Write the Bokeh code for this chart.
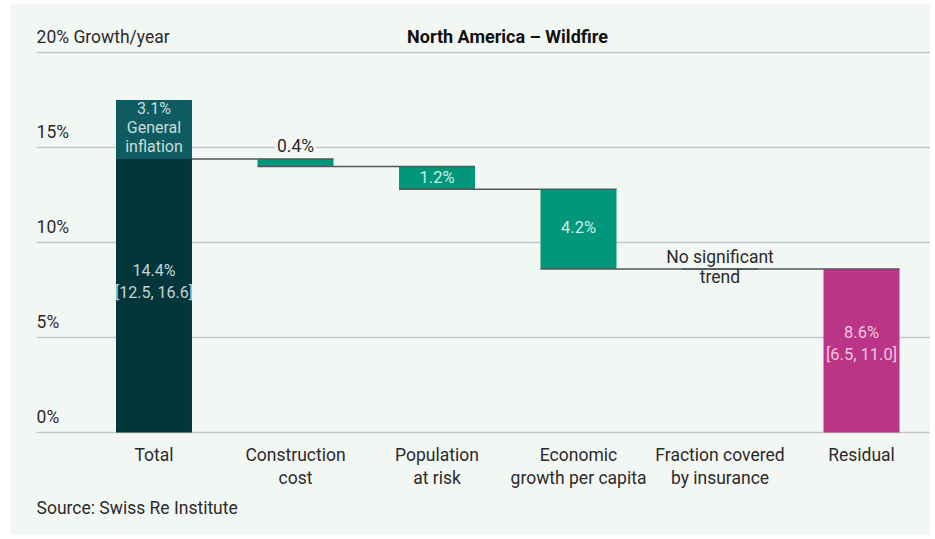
from bokeh.plotting import figure
from bokeh.models import Range1d
from bokeh.core.properties import value
from bokeh.embed import file_html
from bokeh.resources import INLINE

# ---- data ----
categories_l1 = ["Total", "Construction", "Population", "Economic", "Fraction covered", "Residual"]
categories_l2 = ["", "cost", "at risk", "growth per capita", "by insurance", ""]
total_value = 14.4
inflation_value = 3.1
drivers = [0.4, 1.2, 4.2, 0.0]          # construction, population, economic, fraction
residual_value = 8.6
total_ci = "[12.5, 16.6]"
residual_ci = "[6.5, 11.0]"
y_ticks = [0, 5, 10, 15, 20]
y_tick_labels = ["0%", "5%", "10%", "15%", "20% Growth/year"]

BG = "#f3f7f4"
DARK = "#02363a"
INFL = "#0e5c61"
GREEN = "#00977a"
MAGENTA = "#ba3587"
GRID = "#c4c6c5"
CONN = "#50575a"
TXT = "#2b2b2b"
FONT = value("Roboto")
FS = "17.5px"

W = 0.537
p = figure(width=930, height=535, output_backend="svg", toolbar_location=None,
           x_range=Range1d(-1.0141, 5.4876), y_range=Range1d(-5.421, 22.579),
           x_axis_location=None, y_axis_location=None,
           min_border_left=10, min_border_top=3, min_border_right=0, min_border_bottom=0,
           background_fill_color=BG, border_fill_color="white", outline_line_color=None)
p.grid.visible = False

# gridlines
x_left = -0.83
p.segment(x0=[x_left] * len(y_ticks), x1=[5.6] * len(y_ticks), y0=y_ticks, y1=y_ticks,
          line_color=GRID, line_width=1.3)
p.text(x=[x_left] * len(y_ticks), y=[v + 0.84 for v in y_ticks], text=y_tick_labels,
       text_font=FONT, text_font_size=FS, text_color=TXT,
       text_align="left", text_baseline="middle")

# title
p.text(x=[2.498], y=[20.84], text=["North America – Wildfire"], text_font=FONT,
       text_font_size="18px", text_font_style="bold", text_color="#111111",
       text_align="center", text_baseline="middle")

# compute waterfall
levels = [total_value]
for d in drivers:
    levels.append(levels[-1] - d)
dx, dtop, dbot = [], [], []
for i, d in enumerate(drivers):
    if d > 0:
        dx.append(i + 1)
        dtop.append(levels[i])
        dbot.append(levels[i + 1])

p.vbar(x=[0], bottom=[0], top=[total_value], width=W, fill_color=DARK, line_color=None)
p.vbar(x=[0], bottom=[total_value], top=[total_value + inflation_value], width=W,
       fill_color=INFL, line_color=None)
p.vbar(x=dx, bottom=dbot, top=dtop, width=W, fill_color=GREEN, line_color=None)
p.vbar(x=[5], bottom=[0], top=[residual_value], width=W, fill_color=MAGENTA, line_color=None)

# connectors
cx0, cx1, cy = [], [], []
for i in range(len(drivers) + 1):
    cx0.append(i + W / 2 if i == 0 else i - W / 2)
    cx1.append(i + 1 + W / 2)
    cy.append(levels[i] if i < len(levels) else levels[-1])
p.segment(x0=cx0, x1=cx1, y0=cy, y1=cy, line_color=CONN, line_width=1.5)

# labels inside total bar
top_t = total_value + inflation_value
p.text(x=[0, 0, 0], y=[top_t - 0.45, top_t - 1.45, top_t - 2.45],
       text=[f"{inflation_value}%", "General", "inflation"], text_font=FONT,
       text_font_size="16px", text_color="#c9dcda", text_align="center", text_baseline="middle")
p.text(x=[0, 0], y=[8.53, 7.37], text=[f"{total_value}%", total_ci], text_font=FONT,
       text_font_size="16px", text_color="#c4d3d3", text_align="center", text_baseline="middle")

# driver labels
p.text(x=[1], y=[15.1], text=[f"{drivers[0]}%"], text_font=FONT, text_font_size=FS,
       text_color=TXT, text_align="center", text_baseline="middle",
       background_fill_color=BG, padding=2)
p.text(x=[2, 3], y=[(levels[1] + levels[2]) / 2, 10.79],
       text=[f"{drivers[1]}%", f"{drivers[2]}%"], text_font=FONT, text_font_size="16.5px",
       text_color="#cdeee3", text_align="center", text_baseline="middle")
p.text(x=[4, 4], y=[9.26, 8.16], text=["No significant", "trend"], text_font=FONT,
       text_font_size=FS, text_color=TXT, text_align="center", text_baseline="middle")
p.text(x=[5, 5], y=[5.26, 4.1], text=[f"{residual_value}%", residual_ci], text_font=FONT,
       text_font_size="16.5px", text_color="#f1c6df", text_align="center", text_baseline="middle")

# category labels
xs = list(range(len(categories_l1)))
p.text(x=xs, y=[-1.21] * len(xs), text=categories_l1, text_font=FONT, text_font_size=FS,
       text_color=TXT, text_align="center", text_baseline="middle")
p.text(x=xs, y=[-2.42] * len(xs), text=categories_l2, text_font=FONT, text_font_size=FS,
       text_color=TXT, text_align="center", text_baseline="middle")

# source
p.text(x=[x_left], y=[-3.95], text=["Source: Swiss Re Institute"], text_font=FONT,
       text_font_size=FS, text_color=TXT, text_align="left", text_baseline="middle")

open("out.html", "w").write(file_html(p, INLINE))
